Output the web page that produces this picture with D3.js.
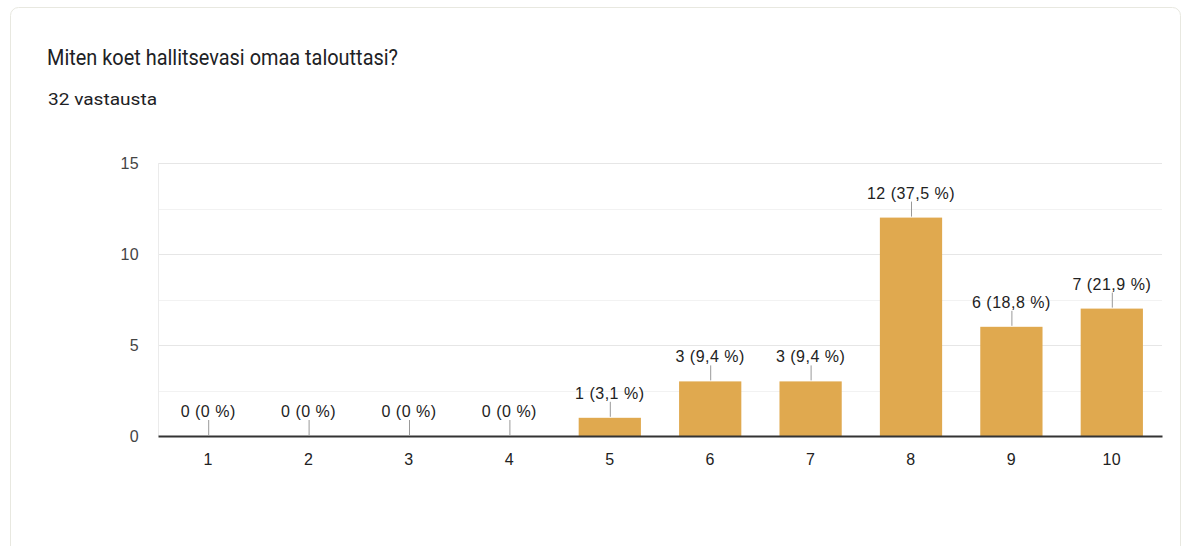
<!DOCTYPE html>
<html>
<head>
<meta charset="utf-8">
<script src="https://cdn.jsdelivr.net/npm/d3@7"></script>
<style>
  body { margin: 0; background: #fff; }
  svg { display: block; }
</style>
</head>
<body>
<svg id="chart" width="1187" height="546"></svg>
<script>
var categories = ["1", "2", "3", "4", "5", "6", "7", "8", "9", "10"];
var counts = [0, 0, 0, 0, 1, 3, 3, 12, 6, 7];
var labels = ["0 (0 %)", "0 (0 %)", "0 (0 %)", "0 (0 %)", "1 (3,1 %)", "3 (9,4 %)", "3 (9,4 %)", "12 (37,5 %)", "6 (18,8 %)", "7 (21,9 %)"];
var yTicks = [0, 5, 10, 15];
var gridLines = [0, 2.5, 5, 7.5, 10, 12.5, 15];
var title = "Miten koet hallitsevasi omaa talouttasi?";
var subtitle = "32 vastausta";

var svg = d3.select("#chart");
var plotLeft = 158, plotRight = 1162, plotTop = 163, plotBottom = 436;

// card
svg.append("rect")
    .attr("x", 10.5).attr("y", 7.5)
    .attr("width", 1170).attr("height", 560)
    .attr("rx", 8)
    .attr("fill", "#fff")
    .attr("stroke", "#e8e8e0");

svg.append("text")
    .attr("x", 47).attr("y", 65)
    .attr("font-family", "Roboto, sans-serif")
    .attr("font-size", 21.5)
    .attr("textLength", 351)
    .attr("lengthAdjust", "spacingAndGlyphs")
    .attr("fill", "#202124")
    .text(title);

svg.append("text")
    .attr("x", 48).attr("y", 105)
    .attr("font-family", "Roboto, sans-serif")
    .attr("font-size", 16)
    .attr("textLength", 109)
    .attr("lengthAdjust", "spacingAndGlyphs")
    .attr("fill", "#202124")
    .text(subtitle);

var x = d3.scaleBand()
    .domain(categories)
    .range([plotLeft, plotRight])
    .paddingInner(0.38)
    .paddingOuter(0.19);

var y = d3.scaleLinear()
    .domain([0, 15])
    .range([plotBottom, plotTop]);

var font = "'Liberation Sans', Arial, sans-serif";

// grid
svg.append("g").selectAll("line")
    .data(gridLines.slice(1))
    .join("line")
    .attr("x1", plotLeft).attr("x2", plotRight)
    .attr("y1", d => Math.round(y(d)) + 0.5)
    .attr("y2", d => Math.round(y(d)) + 0.5)
    .attr("stroke", d => d % 5 === 0 ? "#e6e6e6" : "#f2f2f2");

svg.append("line")
    .attr("x1", plotLeft + 0.5).attr("x2", plotLeft + 0.5)
    .attr("y1", plotTop).attr("y2", plotBottom)
    .attr("stroke", "#ebebeb");

// y axis labels
var yAxis = svg.append("g")
    .attr("transform", `translate(${plotLeft},0)`)
    .call(d3.axisLeft(y).tickValues(yTicks).tickSize(0).tickPadding(19))
    .attr("font-family", font)
    .attr("font-size", 16);
yAxis.select(".domain").remove();
yAxis.selectAll("text")
    .attr("dy", "0.33em")
    .attr("letter-spacing", 0.4)
    .attr("fill", "#444");

// bars
svg.append("g").selectAll("rect")
    .data(counts)
    .join("rect")
    .attr("x", (d, i) => x(categories[i]))
    .attr("y", d => y(d))
    .attr("width", x.bandwidth())
    .attr("height", d => y(0) - y(d))
    .attr("fill", "#e0a94f");

// x axis
var xAxis = svg.append("g")
    .attr("transform", `translate(0,${plotBottom})`)
    .call(d3.axisBottom(x).tickSize(0).tickPadding(0))
    .attr("font-family", font)
    .attr("font-size", 16);
xAxis.select(".domain")
    .attr("stroke", "#333")
    .attr("stroke-width", 2);
xAxis.selectAll("text")
    .attr("y", 29)
    .attr("dy", null)
    .attr("letter-spacing", 0.4)
    .attr("fill", "#222");

// annotation stems and labels
var ann = svg.append("g");
ann.selectAll("line")
    .data(counts)
    .join("line")
    .attr("x1", (d, i) => x(categories[i]) + x.bandwidth() / 2 + 0.5)
    .attr("x2", (d, i) => x(categories[i]) + x.bandwidth() / 2 + 0.5)
    .attr("y1", d => y(d) - 1)
    .attr("y2", d => y(d) - 16)
    .attr("stroke", "#999");

ann.selectAll("text")
    .data(counts)
    .join("text")
    .attr("x", (d, i) => x(categories[i]) + x.bandwidth() / 2)
    .attr("y", d => y(d) - 19)
    .attr("text-anchor", "middle")
    .attr("font-family", font)
    .attr("font-size", 16)
    .attr("letter-spacing", 0.5)
    .attr("fill", "#222")
    .text((d, i) => labels[i]);
</script>
</body>
</html>
